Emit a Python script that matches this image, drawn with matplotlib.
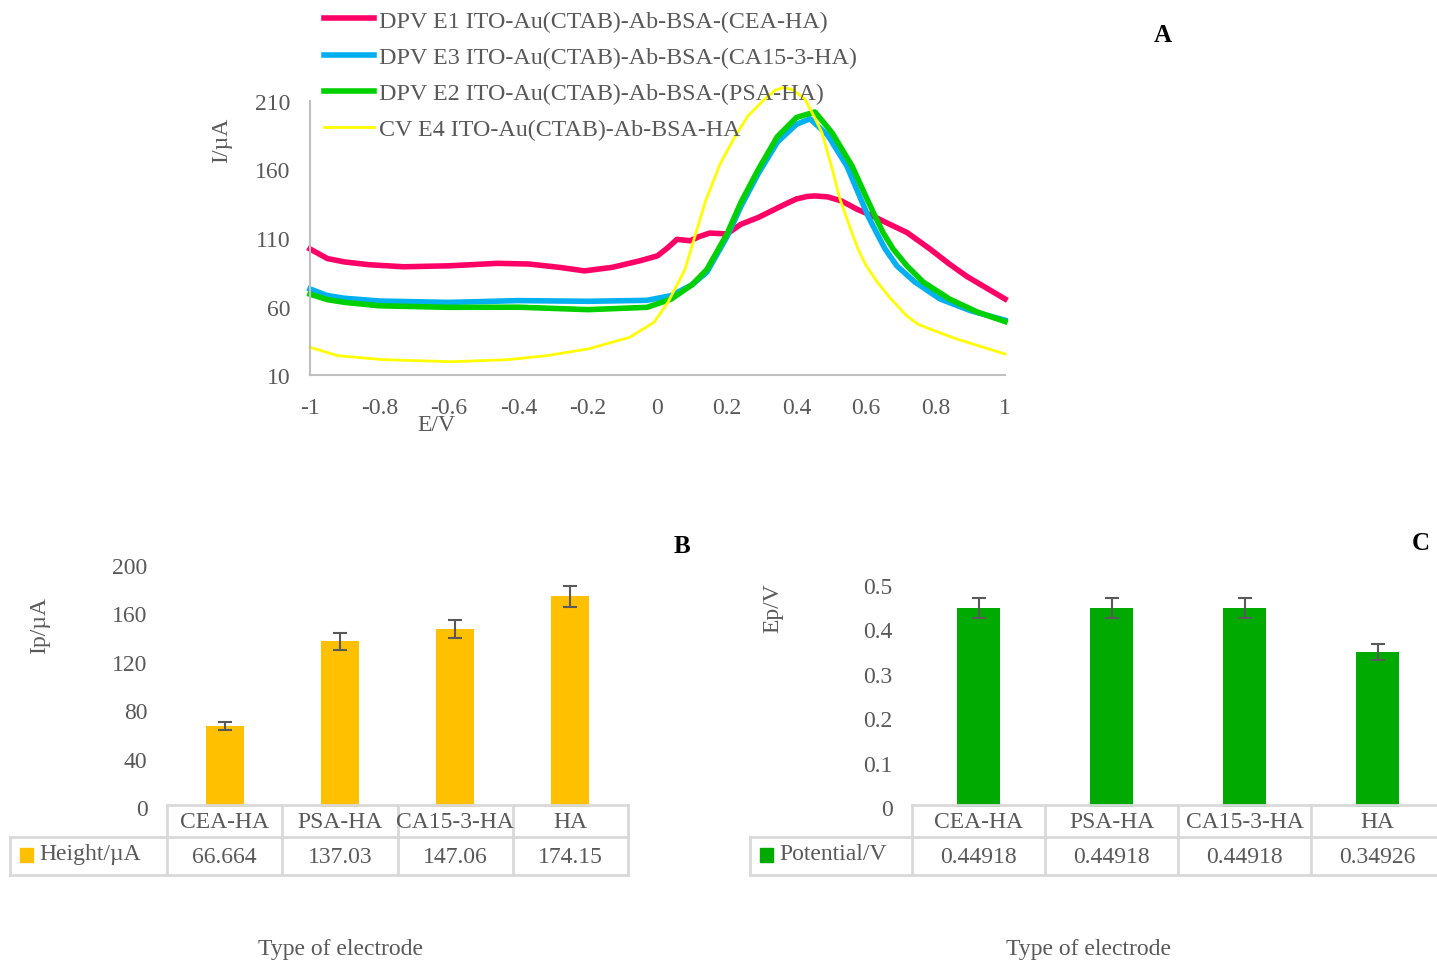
import numpy as np
import matplotlib.pyplot as plt
from matplotlib.lines import Line2D
from matplotlib.transforms import Affine2D

plt.rcParams['font.family'] = ['Liberation Serif', 'DejaVu Serif']

W, H = 1437, 962
gray = '#595959'
rule = '#D9D9D9'
fs = 17

# Panel A: voltammograms
e1_x = [-1.0, -0.95, -0.9, -0.83, -0.73, -0.6, -0.46, -0.37, -0.28, -0.21, -0.13, -0.05, 0.0,
        0.03, 0.056, 0.094, 0.12, 0.15, 0.2, 0.24, 0.29, 0.33, 0.37, 0.40, 0.43, 0.453, 0.49, 0.53,
        0.574, 0.62, 0.66, 0.718, 0.784, 0.84, 0.89, 0.95, 1.0]
e1_y = [102, 95, 92.5, 90.5, 89, 89.7, 91.5, 91, 88.5, 86, 88.6, 93.4, 97,
        103, 109, 108, 111, 113.6, 113, 120, 125, 130, 135, 138.5, 140.3, 140.7, 140, 137,
        131, 126, 121, 114, 102, 91, 82, 73, 65.5]

e3_x = [-1, -0.95, -0.9, -0.8, -0.6, -0.4, -0.2, -0.03, 0.04, 0.1, 0.142, 0.2, 0.24, 0.29, 0.345,
        0.40, 0.439, 0.49, 0.545, 0.585, 0.606, 0.63, 0.655, 0.689, 0.74, 0.813, 0.9, 1.0]
e3_y = [72.8, 68, 66, 64, 63, 64.3, 63.8, 64.5, 68, 76, 85, 111, 133, 157, 180,
        193, 197, 185, 162.5, 138.5, 126, 114, 102, 89.6, 78, 65.5, 57, 50]

e2_x = [-1, -0.95, -0.9, -0.8, -0.6, -0.4, -0.2, -0.03, 0.04, 0.1, 0.142, 0.2, 0.24, 0.29, 0.345,
        0.40, 0.453, 0.502, 0.56, 0.603, 0.626, 0.649, 0.678, 0.718, 0.764, 0.84, 0.92, 1.0]
e2_y = [69, 65, 63, 60.5, 59.4, 59.5, 57.7, 59.4, 65.5, 76, 87, 113, 136, 160, 184,
        198, 202, 187, 162.5, 138.5, 126, 114, 102, 89.6, 78, 65.5, 56, 49]

e4_x = [-1, -0.92, -0.79, -0.59, -0.43, -0.32, -0.2, -0.08, -0.01, 0.03, 0.079, 0.137, 0.18, 0.223,
        0.26, 0.309, 0.34, 0.365, 0.39, 0.424, 0.45, 0.473, 0.5, 0.525, 0.555, 0.577, 0.6, 0.632,
        0.67, 0.718, 0.75, 0.8, 0.86, 1.0]
e4_y = [30.2, 24.1, 21.2, 19.7, 21.2, 24.1, 29, 37.5, 48.5, 63, 87, 136, 164, 184,
        199, 211.5, 218, 220, 218, 211.5, 199, 187, 163, 138.5, 117, 102, 90, 78,
        66, 53, 47, 42, 36.4, 25.3]

# Panels B and C
electrodes = ['CEA-HA', 'PSA-HA', 'CA15-3-HA', 'HA']
height = [66.664, 137.03, 147.06, 174.15]
height_err = [3.3, 6.9, 7.4, 8.7]
height_txt = ['66.664', '137.03', '147.06', '174.15']
potential = [0.44918, 0.44918, 0.44918, 0.34926]
potential_err = [0.0225, 0.0225, 0.0225, 0.0175]
potential_txt = ['0.44918', '0.44918', '0.44918', '0.34926']


def box(l, t, r, b):
    return [l / W, 1 - b / H, (r - l) / W, (b - t) / H]


fig = plt.figure(figsize=(W / 100, H / 100), dpi=100)
pix = Affine2D().scale(1 / W, -1 / H).translate(0, 1) + fig.transFigure

# ---- A
axA = fig.add_axes(box(310, 102, 1005, 376))
axA.plot(e1_x, e1_y, color='#FF0066', lw=4, label='DPV E1 ITO-Au(CTAB)-Ab-BSA-(CEA-HA)', clip_on=False)
axA.plot(e3_x, e3_y, color='#00B0F0', lw=4, label='DPV E3 ITO-Au(CTAB)-Ab-BSA-(CA15-3-HA)', clip_on=False)
axA.plot(e2_x, e2_y, color='#00D000', lw=4, label='DPV E2 ITO-Au(CTAB)-Ab-BSA-(PSA-HA)', clip_on=False)
axA.plot(e4_x, e4_y, color='#FFFF00', lw=2, label='CV E4 ITO-Au(CTAB)-Ab-BSA-HA', clip_on=False)
axA.set_xlim(-1, 1)
axA.set_ylim(10, 210)
axA.set_xticks(np.arange(-1, 1.01, 0.2))
axA.set_xticklabels(['-1', '-0.8', '-0.6', '-0.4', '-0.2', '0', '0.2', '0.4', '0.6', '0.8', '1'])
axA.set_yticks([10, 60, 110, 160, 210])
axA.tick_params(length=0, labelsize=fs, labelcolor=gray)
axA.tick_params(axis='x', pad=16)
axA.tick_params(axis='y', pad=14)
for s in ['top', 'right']:
    axA.spines[s].set_visible(False)
for s in ['left', 'bottom']:
    axA.spines[s].set_color('#BFBFBF')
    axA.spines[s].set_linewidth(1.5)
axA.patch.set_alpha(0)
leg = axA.legend(loc='upper left', bbox_to_anchor=(324 / W, 1 - 11 / H), bbox_transform=fig.transFigure,
                 frameon=False, fontsize=17.3, handlelength=2.1, handletextpad=0.2,
                 labelspacing=0.6, borderpad=0, borderaxespad=0)
for t in leg.get_texts():
    t.set_color(gray)
fig.text(222 / W, 1 - 140 / H, 'I/µA', rotation=90, ha='center', va='center', fontsize=fs, color=gray)
fig.text(436 / W, 1 - 426 / H, 'E/V', ha='center', va='center', fontsize=fs, color=gray)
fig.text(1163 / W, 1 - 36 / H, 'A', ha='center', va='center', fontsize=fs + 1, weight='bold')


def bar_panel(l, r, ytop, ylim, ticks, ticklab, vals, errs, txts, color, rowlab, lab_left,
              ylab, ylab_xy, letter, letter_xy, xlab_x):
    ax = fig.add_axes(box(l, ytop, r, 808))
    x = np.arange(len(electrodes))
    ax.bar(x, vals, width=0.33, color=color, zorder=2)
    ax.errorbar(x, vals, yerr=errs, fmt='none', ecolor=gray, elinewidth=1.5, capsize=5,
                capthick=1.5, zorder=3)
    ax.set_xlim(-0.5, len(electrodes) - 0.5)
    ax.set_ylim(*ylim)
    ax.set_yticks(ticks)
    ax.set_yticklabels(ticklab)
    ax.set_xticks([])
    ax.tick_params(length=0, labelsize=fs, labelcolor=gray, pad=14)
    for s in ax.spines.values():
        s.set_visible(False)
    ax.patch.set_alpha(0)

    # data table under the bars
    n = len(electrodes)
    edges = [l + (r - l) * k / n for k in range(n + 1)]
    t0, t1, t2 = 806, 838, 876
    segs = [([l, r], [t0, t0]), ([lab_left, r], [t1, t1]), ([lab_left, r], [t2, t2]),
            ([lab_left, lab_left], [t1, t2])]
    segs += [([e, e], [t0, t2]) for e in edges]
    for xs, ys in segs:
        fig.add_artist(Line2D(xs, ys, transform=pix, color=rule, lw=2))
    for i, name in enumerate(electrodes):
        cx = (edges[i] + edges[i + 1]) / 2
        fig.text(cx / W, 1 - 823 / H, name, ha='center', va='center', fontsize=fs, color=gray)
        fig.text(cx / W, 1 - 858 / H, txts[i], ha='center', va='center', fontsize=fs, color=gray)
    fig.add_artist(plt.Rectangle((lab_left + 10, 863), 13, -14, transform=pix, color=color))
    fig.text((lab_left + 29) / W, 1 - 855 / H, rowlab, ha='left', va='center', fontsize=fs, color=gray)

    fig.text(ylab_xy[0] / W, 1 - ylab_xy[1] / H, ylab, rotation=90, ha='center', va='center',
             fontsize=fs, color=gray)
    fig.text(letter_xy[0] / W, 1 - letter_xy[1] / H, letter, ha='center', va='center',
             fontsize=fs + 1, weight='bold')
    fig.text(xlab_x / W, 1 - 950 / H, 'Type of electrode', ha='center', va='center',
             fontsize=fs, color=gray)
    return ax


bar_panel(167, 628, 566, (0, 200), [0, 40, 80, 120, 160, 200],
          ['0', '40', '80', '120', '160', '200'], height, height_err, height_txt, '#FFC000',
          'Height/µA', 10, 'Ip/µA', (40, 625), 'B', (682, 547), 340)
bar_panel(912, 1444, 586, (0, 0.5), [0, 0.1, 0.2, 0.3, 0.4, 0.5],
          ['0', '0.1', '0.2', '0.3', '0.4', '0.5'], potential, potential_err, potential_txt,
          '#00AA00', 'Potential/V', 750, 'Ep/V', (773, 608), 'C', (1421, 544), 1088)

fig.savefig('out.png', dpi=100)
